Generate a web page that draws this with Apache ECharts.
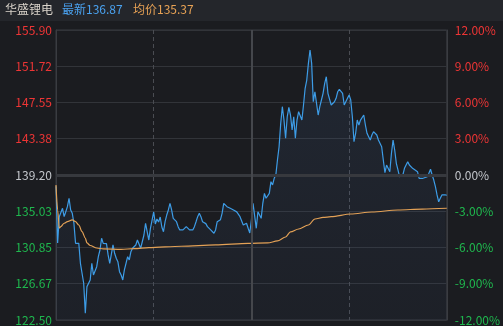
<!DOCTYPE html>
<html><head><meta charset="utf-8">
<script src="https://cdn.jsdelivr.net/npm/echarts@6/dist/echarts.min.js"></script>
<style>html,body{margin:0;padding:0;background:#1b1c20;}#c{width:503px;height:326px;}</style>
</head><body><div id="c"></div>
<script>
const stockName = '华盛锂电';
const lastPrice = '136.87';
const avgPriceText = '135.37';
const prevClose = 139.20;
const leftTicks = ['122.50','126.67','130.85','135.03','139.20','143.38','147.55','151.72','155.90'];
const rightTicks = ['-12.00%','-9.00%','-6.00%','-3.00%','0.00%','3.00%','6.00%','9.00%','12.00%'];
// minute-by-minute price (241 minutes, null = not read)
const prices = [
137.90,131.37,134.40,null,135.36,134.40,134.97,135.55,136.52,135.17,
134.79,133.64,131.33,131.52,131.33,129.03,127.88,126.73,123.27,126.34,
126.40,127.11,129.03,127.68,127.88,128.64,129.79,130.56,131.91,131.33,
131.45,131.30,129.99,129.03,129.21,131.14,130.18,129.61,129.21,128.06,
127.68,127.11,128.26,129.03,129.79,129.41,130.37,130.76,null,131.14,
131.71,131.52,130.76,130.80,132.29,133.64,133.44,131.71,133.06,133.25,
134.94,133.56,134.13,133.79,134.36,133.21,132.67,133.82,134.59,135.17,
135.94,135.17,134.21,134.02,133.82,133.25,132.87,133.06,132.87,133.06,
133.25,133.06,132.87,132.79,132.87,133.25,133.82,134.40,134.79,134.40,
133.82,133.64,133.60,133.25,133.44,132.87,132.67,132.49,132.87,133.82,
134.02,134.05,134.79,135.94,135.90,135.55,null,135.36,135.55,135.17,
134.97,134.95,134.79,134.40,134.42,133.44,133.48,133.64,133.06,132.52,
134.02,135.94,135.74,133.06,134.97,134.59,134.21,135.94,137.09,136.52,
136.48,137.09,138.43,138.05,138.82,139.20,140.93,142.46,145.15,147.07,
145.53,143.43,145.91,147.00,146.11,144.38,145.91,143.43,145.53,146.49,
146.31,145.53,147.26,149.19,150.14,152.06,153.60,152.06,147.64,148.79,
148.99,146.11,147.07,147.84,148.61,149.76,150.52,148.61,148.55,147.26,
147.46,147.64,148.03,148.79,149.07,148.99,148.61,147.26,147.46,148.03,
148.41,147.84,145.91,143.04,144.00,145.53,144.96,145.53,145.73,146.11,
144.96,144.00,143.61,143.23,143.81,144.19,144.38,143.81,143.23,143.04,
142.46,140.93,139.46,140.35,140.55,139.58,141.70,143.23,142.08,140.55,
139.78,139.00,138.82,139.20,139.97,140.35,140.73,140.35,null,139.97,
139.86,null,139.58,138.82,null,138.80,138.85,null,139.00,139.40,
139.86,139.20,138.62,137.85,136.90,136.12,136.52,136.90,137.01,136.90,
136.87];
// average price line, read at these minutes
const avgMinutes = [0,1,2,3,5,7,10,12,14,16,18,19,21,25,29,40,48,57,77,98,118,130,136,141,144,149,155,159,164,169,181,194,210,225,240];
const avgPrices = [138.05,135.17,133.10,133.25,133.64,133.82,134.02,133.82,133.44,132.67,131.94,131.37,131.08,130.79,130.68,130.64,130.71,130.83,130.99,131.14,131.33,131.37,131.60,132.06,132.64,132.98,133.44,134.13,134.31,134.40,134.71,134.94,135.17,135.28,135.37];

const toPct = p => p == null ? null : (p / prevClose - 1) * 100;
const minutes = prices.map((_, i) => i);
const priceSeries = prices.map(toPct);
const avgSeries = avgMinutes.map((m, i) => [m, toPct(avgPrices[i])]);
const RED = '#ee3535', GREEN = '#1fb84e', GRAY = '#c3c6cb';
const lblColor = v => v > 0.001 ? RED : (v < -0.001 ? GREEN : GRAY);
const idx = v => Math.round((v + 12) / 3);

const chart = echarts.init(document.getElementById('c'), null, {renderer: 'canvas'});
chart.setOption({
  backgroundColor: '#1b1c20',
  animation: false,
  textStyle: {fontFamily: 'Noto Sans CJK SC'},
  grid: {left: 56, right: 53, top: 30, bottom: 6, show: true, borderColor: '#393b40', borderWidth: 1},
  xAxis: {
    type: 'category', data: minutes, boundaryGap: false,
    axisLine: {show: false}, axisTick: {show: false}, axisLabel: {show: false},
    splitLine: {show: true, interval: i => i === 60 || i === 180, lineStyle: {color: '#4a4c52', type: [4, 3], width: 1}}
  },
  yAxis: [{
    type: 'value', min: -12, max: 12, interval: 3, position: 'left',
    axisLine: {show: true, lineStyle: {color: '#3a3c41'}}, axisTick: {show: false},
    splitLine: {show: true, lineStyle: {color: '#323439', width: 1}},
    axisLabel: {fontSize: 12, margin: 4, formatter: v => leftTicks[idx(v)], color: v => lblColor(v)}
  }, {
    type: 'value', min: -12, max: 12, interval: 3, position: 'right',
    axisLine: {show: true, lineStyle: {color: '#3a3c41'}}, axisTick: {show: false},
    splitLine: {show: false},
    axisLabel: {fontSize: 12, margin: 8, formatter: v => rightTicks[idx(v)], color: v => lblColor(v)}
  }],
  series: [{
    type: 'line', data: [], z: 1, silent: true,
    markLine: {silent: true, symbol: 'none', label: {show: false},
      data: [{yAxis: 0, lineStyle: {color: '#37393e', width: 3, type: 'solid'}},
             {xAxis: 120, lineStyle: {color: '#45474c', width: 2, type: 'solid'}}]}
  }, {
    type: 'line', data: priceSeries, connectNulls: true, showSymbol: false, z: 3,
    lineStyle: {color: '#3d9ce6', width: 1.2},
    areaStyle: {origin: 'start', color: new echarts.graphic.LinearGradient(0, 0, 0, 1, [
      {offset: 0, color: 'rgba(70,110,165,0.20)'}, {offset: 1, color: 'rgba(60,90,140,0.10)'}])}
  }, {
    type: 'line', data: avgSeries, showSymbol: false, z: 4, smooth: 0.3, smoothMonotone: 'x',
    lineStyle: {color: '#e3a156', width: 1.2}
  }],
  graphic: [
    {type: 'rect', left: 0, top: 0, shape: {width: 503, height: 21}, style: {fill: '#24262b'}, z: 10},
    {type: 'text', left: 5, top: 3, style: {text: stockName, fill: '#d9d3ca', font: '12px "Noto Sans CJK SC"'}, z: 11},
    {type: 'text', left: 62, top: 3, style: {text: '最新' + lastPrice, fill: '#4aa2f0', font: '12px "Noto Sans CJK SC"'}, z: 11},
    {type: 'text', left: 133, top: 3, style: {text: '均价' + avgPriceText, fill: '#e8a255', font: '12px "Noto Sans CJK SC"'}, z: 11},
    {type: 'group', left: 486, top: 3, z: 11, children: [
      {type: 'polyline', shape: {points: [[1, 3], [6, 3]]}, style: {stroke: '#c8c8c8', lineWidth: 1.5, fill: null}},
      {type: 'arc', shape: {cx: 6, cy: 7.5, r: 4.5, startAngle: -Math.PI / 2, endAngle: Math.PI / 2}, style: {stroke: '#c8c8c8', lineWidth: 1.5, fill: null}},
      {type: 'polyline', shape: {points: [[6, 12], [1, 12]]}, style: {stroke: '#c8c8c8', lineWidth: 1.5, fill: null}},
      {type: 'polyline', shape: {points: [[3, 0], [0.5, 3], [3, 6]]}, style: {stroke: '#c8c8c8', lineWidth: 1.5, fill: null}}
    ]}
  ]
});
</script></body></html>
